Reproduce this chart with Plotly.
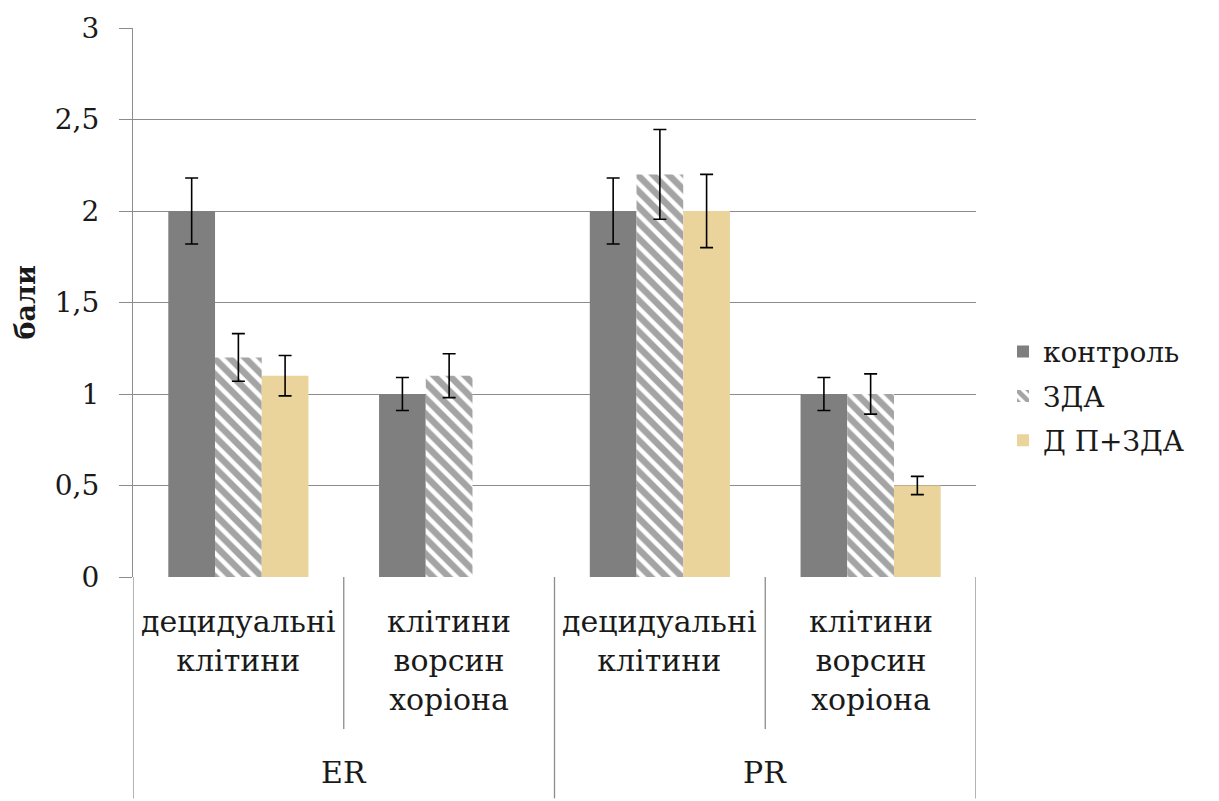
import plotly.graph_objects as go

# Receptor groups and the cell types within each group
groups = ["ER", "PR"]
cell_types = ["децидуальні<br>клітини", "клітини<br>ворсин<br>хоріона"]

series_names = ["контроль", "ЗДА", "Д П+ЗДА"]

# Mean scores per category (ER decid., ER villi, PR decid., PR villi)
control_vals = [2.0, 1.0, 2.0, 1.0]
zda_vals = [1.2, 1.1, 2.2, 1.0]
dp_zda_vals = [1.1, None, 2.0, 0.5]

# Error bar half-lengths
control_err = [0.18, 0.09, 0.18, 0.09]
zda_err = [0.13, 0.12, 0.245, 0.11]
dp_zda_err = [0.11, None, 0.2, 0.05]

y_ticks = [0, 0.5, 1, 1.5, 2, 2.5, 3]
y_tick_text = ["0", "0,5", "1", "1,5", "2", "2,5", "3"]

FONT = "DejaVu Serif"
TXT = "#1a1a1a"
GRID = "#8c8c8c"

n_cats = len(groups) * len(cell_types)
xs = list(range(n_cats))

err_style = dict(type="data", color="black", thickness=1.6, width=6.5)

fig = go.Figure()
fig.add_trace(go.Bar(
    name=series_names[0], x=xs, y=control_vals, legendgroup="a",
    marker=dict(color="#7f7f7f", line=dict(width=0)),
    error_y=dict(array=control_err, **err_style),
))
fig.add_trace(go.Bar(
    name=series_names[1], x=xs, y=zda_vals, legendgroup="b",
    marker=dict(color="white", line=dict(width=0),
                pattern=dict(shape="\\", fgcolor="#4a4a4a", bgcolor="white",
                             size=11, solidity=0.6)),
    error_y=dict(array=zda_err, **err_style),
))
fig.add_trace(go.Bar(
    name=series_names[2], x=xs, y=dp_zda_vals, legendgroup="c",
    marker=dict(color="#ebd49c", line=dict(width=0)),
    error_y=dict(array=dp_zda_err, **err_style),
))

# Plot area geometry in pixels, used to place the category table below the axis
W, H = 1219, 801
left, right, top, bottom = 133, 976, 24, 577
ph = bottom - top


def py(pix):
    """Convert a pixel row to paper y."""
    return (bottom - pix) / ph


shapes = []
annotations = []
per_group = len(cell_types)
for gi, g in enumerate(groups):
    for ci, ct in enumerate(cell_types):
        idx = gi * per_group + ci
        annotations.append(dict(
            x=idx, xref="x", y=py(602), yref="paper", text=ct,
            showarrow=False, yanchor="top", xanchor="center", align="center",
            font=dict(family=FONT, size=30, color=TXT),
        ))
    center = gi * per_group + (per_group - 1) / 2
    annotations.append(dict(
        x=center, xref="x", y=py(774), yref="paper", text=g,
        showarrow=False, yanchor="middle", xanchor="center",
        font=dict(family=FONT, size=30, color=TXT),
    ))

# Divider lines: tall ones between receptor groups, short ones between cell types
for b in range(n_cats + 1):
    xb = b - 0.5
    is_group_edge = b % per_group == 0
    shapes.append(dict(
        type="line", xref="x", yref="paper", x0=xb, x1=xb,
        y0=0, y1=py(800 if is_group_edge else 730),
        line=dict(color=GRID, width=1.3),
    ))

annotations.append(dict(
    x=(25 - left) / (right - left), xref="paper", y=0.5, yref="paper",
    text="<b>бали</b>", textangle=-90, showarrow=False,
    xanchor="center", yanchor="middle",
    font=dict(family=FONT, size=27, color=TXT),
))

fig.update_layout(
    width=W, height=H,
    margin=dict(l=left, r=W - right, t=top, b=H - bottom, pad=0),
    paper_bgcolor="white", plot_bgcolor="white",
    barmode="group", bargap=0.335, bargroupgap=0,
    font=dict(family=FONT, size=28, color=TXT),
    showlegend=True,
    legend=dict(
        x=(1003 - left) / (right - left), xanchor="left",
        y=py(395), yanchor="middle",
        font=dict(family=FONT, size=28, color=TXT),
        tracegroupgap=5, itemwidth=30,
        bgcolor="rgba(0,0,0,0)",
    ),
    xaxis=dict(range=[-0.5, n_cats - 0.5], showticklabels=False,
               showgrid=False, zeroline=False, showline=False, fixedrange=True),
    yaxis=dict(range=[0, 3], tickvals=y_ticks, ticktext=y_tick_text,
               showgrid=True, gridcolor=GRID, gridwidth=1.3,
               zeroline=False, showline=True, linecolor=GRID, linewidth=1.3,
               ticks="outside", ticklen=13, tickcolor=GRID, tickwidth=1.3,
               ticklabelstandoff=14,
               tickfont=dict(family=FONT, size=28, color=TXT)),
    shapes=shapes, annotations=annotations,
)

fig.write_html("out.html")
